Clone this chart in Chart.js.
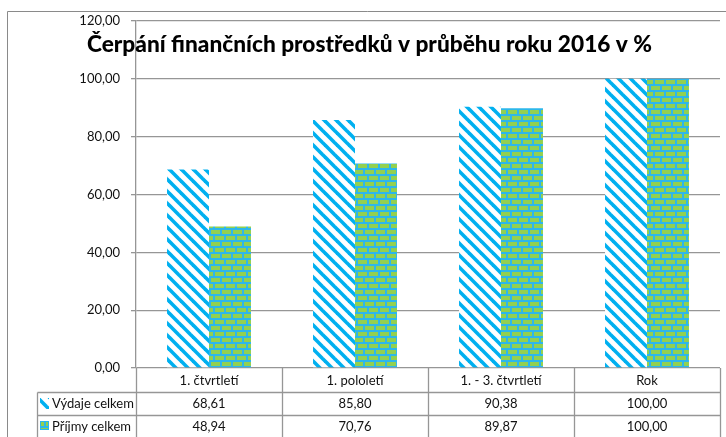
<!DOCTYPE html>
<html>
<head>
<meta charset="utf-8">
<script src="https://cdn.jsdelivr.net/npm/chart.js@4"></script>
<style>
  html, body { margin: 0; padding: 0; background: #fff; }
  #wrap { width: 726px; height: 437px; position: relative; }
</style>
</head>
<body>
<div id="wrap"><canvas id="cerpaniChart" width="726" height="437"></canvas></div>
<script>
const categories = ['1. čtvrtletí', '1. pololetí', '1. - 3. čtvrtletí', 'Rok'];
const vydaje = [68.61, 85.80, 90.38, 100.00];
const prijmy = [48.94, 70.76, 89.87, 100.00];
const seriesNames = ['Výdaje celkem', 'Příjmy celkem'];
const titleText = 'Čerpání finančních prostředků v průběhu roku 2016 v %';

const FONT = 'Lato, "Open Sans", sans-serif';
const GRID = '#969696';
const fmt = v => v.toFixed(2).replace('.', ',');

// diagonal stripes, cyan on white
function stripePattern() {
    const c = document.createElement('canvas');
    c.width = 12; c.height = 12;
    const g = c.getContext('2d');
    g.fillStyle = '#fff';
    g.fillRect(0, 0, 12, 12);
    g.strokeStyle = '#00B0F0';
    g.lineWidth = 3.6;
    [-12, 0, 12].forEach(k => {
        g.beginPath();
        g.moveTo(-6, -6 + k);
        g.lineTo(18, 18 + k);
        g.stroke();
    });
    return g.createPattern(c, 'repeat');
}

// green bricks with cyan mortar
function brickPattern() {
    const c = document.createElement('canvas');
    c.width = 11; c.height = 12;
    const g = c.getContext('2d');
    g.fillStyle = '#2DB7EA';
    g.fillRect(0, 0, 11, 12);
    g.fillStyle = '#92D050';
    g.fillRect(2, 2, 9, 4);
    g.fillRect(0, 8, 4, 4);
    g.fillRect(6, 8, 5, 4);
    return g.createPattern(c, 'repeat');
}

const stripes = stripePattern();
const bricks = brickPattern();

const tablePlugin = {
    id: 'tablePlugin',
    afterDraw(chart) {
        const ctx = chart.ctx;
        const area = chart.chartArea;
        const x = chart.scales.x;
        const step = (area.right - area.left) / categories.length;
        const bounds = [];
        for (let i = 0; i <= categories.length; i++) bounds.push(area.left + i * step);
        const rowTop = area.bottom;
        const rows = [rowTop, 392.5, 415.5, 438.5];
        const leftEdge = 37.5;

        ctx.save();
        // outer frame
        ctx.strokeStyle = '#8a8a8a';
        ctx.lineWidth = 1;
        ctx.beginPath();
        ctx.moveTo(7.5, 440);
        ctx.lineTo(7.5, 11.5);
        ctx.lineTo(730, 11.5);
        ctx.stroke();

        // table lines
        ctx.strokeStyle = GRID;
        ctx.lineWidth = 1.3;
        ctx.beginPath();
        bounds.forEach(b => {
            ctx.moveTo(Math.round(b) + 0.5, rowTop);
            ctx.lineTo(Math.round(b) + 0.5, 440);
        });
        ctx.moveTo(leftEdge, rows[1]);
        ctx.lineTo(leftEdge, 440);
        for (let r = 1; r < rows.length; r++) {
            ctx.moveTo(leftEdge, rows[r]);
            ctx.lineTo(Math.round(area.right) + 0.5, rows[r]);
        }
        ctx.stroke();

        // texts
        ctx.fillStyle = '#111';
        ctx.font = '13px ' + FONT;
        ctx.textAlign = 'center';
        ctx.textBaseline = 'middle';
        categories.forEach((c, i) => {
            const cx = x.getPixelForValue(i);
            ctx.fillText(c, cx, 381);
            ctx.fillText(fmt(vydaje[i]), cx, 404);
            ctx.fillText(fmt(prijmy[i]), cx, 427);
        });

        // legend keys
        ctx.textAlign = 'left';
        ctx.fillText(seriesNames[0], 52, 404);
        ctx.fillText(seriesNames[1], 52, 427);
        ctx.fillStyle = stripes;
        ctx.fillRect(40, 398, 9, 11);
        ctx.fillStyle = bricks;
        ctx.fillRect(40, 421, 9, 9);
        ctx.strokeStyle = '#2DB7EA';
        ctx.lineWidth = 1;
        ctx.strokeRect(40.5, 421.5, 8, 8);

        // title, squeezed to the reference width
        ctx.fillStyle = '#000';
        ctx.font = '900 23px ' + FONT;
        const w = ctx.measureText(titleText).width;
        const sx = 565 / w;
        ctx.translate(369.5, 52);
        ctx.scale(sx, 1);
        ctx.textAlign = 'center';
        ctx.textBaseline = 'alphabetic';
        ctx.fillText(titleText, 0, 0);
        ctx.restore();
    }
};

new Chart(document.getElementById('cerpaniChart').getContext('2d'), {
    type: 'bar',
    data: {
        labels: categories,
        datasets: [{
            label: seriesNames[0],
            data: vydaje,
            backgroundColor: stripes,
            borderWidth: 0
        }, {
            label: seriesNames[1],
            data: prijmy,
            backgroundColor: bricks,
            borderWidth: 0
        }]
    },
    options: {
        responsive: false,
        animation: false,
        layout: {
            padding: { top: 21, right: 6, bottom: 69, left: 0 }
        },
        datasets: {
            bar: {
                categoryPercentage: 0.575,
                barPercentage: 1
            }
        },
        plugins: {
            legend: { display: false },
            title: { display: false },
            tooltip: { enabled: false }
        },
        scales: {
            x: {
                display: false
            },
            y: {
                min: 0,
                max: 120,
                afterFit: function(scale) {
                    scale.width = 136;
                },
                ticks: {
                    stepSize: 20,
                    padding: 11,
                    color: '#111',
                    font: { family: FONT, size: 13 },
                    callback: v => fmt(v)
                },
                grid: {
                    color: GRID,
                    lineWidth: 1.3,
                    tickLength: 5
                },
                border: {
                    color: GRID,
                    width: 1.3
                }
            }
        }
    },
    plugins: [tablePlugin]
});
</script>
</body>
</html>
